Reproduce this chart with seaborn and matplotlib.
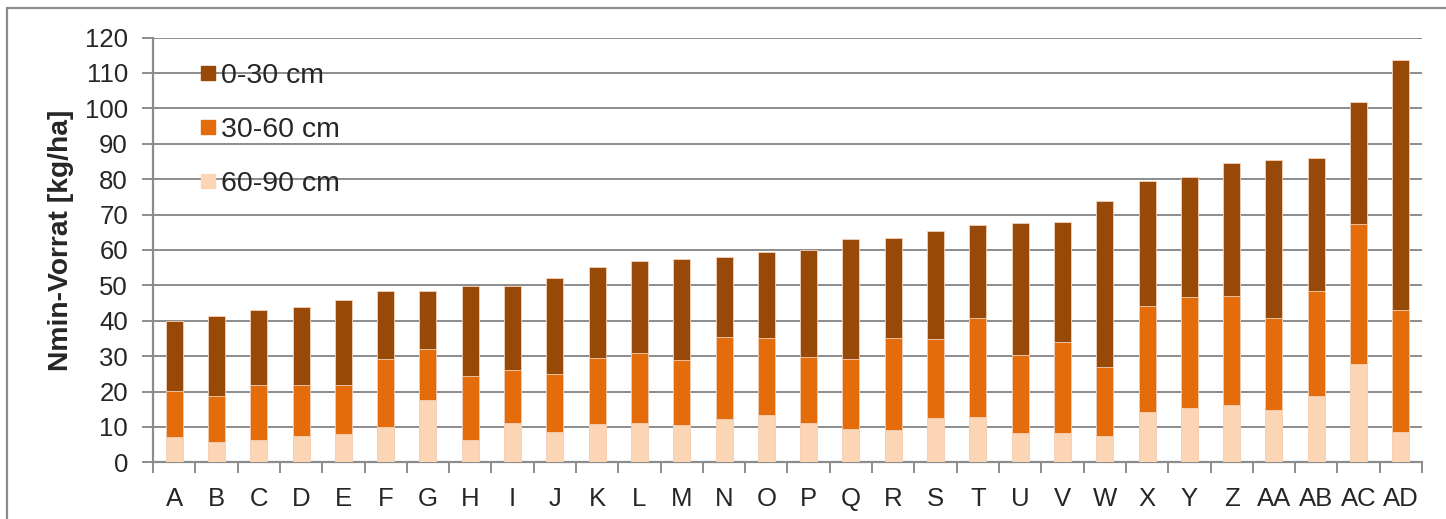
import matplotlib
matplotlib.use("Agg")
import matplotlib.pyplot as plt
from matplotlib.lines import Line2D
import numpy as np
import pandas as pd
import seaborn as sns

# Sites and nitrogen stock per soil layer (kg/ha)
sites = ["A", "B", "C", "D", "E", "F", "G", "H", "I", "J", "K", "L", "M", "N", "O",
         "P", "Q", "R", "S", "T", "U", "V", "W", "X", "Y", "Z", "AA", "AB", "AC", "AD"]
layer_0_30 = [19.8, 22.7, 21.2, 22.1, 24.0, 19.0, 16.3, 25.3, 23.6, 27.0,
              25.6, 26.0, 28.5, 22.5, 24.3, 30.2, 33.8, 28.5, 30.4, 26.2,
              37.1, 33.9, 46.8, 35.4, 33.9, 37.6, 44.6, 37.6, 34.7, 70.5]
layer_30_60 = [13.1, 12.9, 15.6, 14.5, 13.9, 19.4, 14.4, 18.0, 15.0, 16.4,
               18.7, 20.0, 18.3, 23.3, 21.7, 18.7, 20.0, 25.9, 22.4, 27.9,
               22.2, 25.7, 19.6, 30.1, 31.5, 30.9, 26.0, 29.7, 39.4, 34.4]
layer_60_90 = [7.1, 5.8, 6.3, 7.4, 8.0, 9.9, 17.6, 6.4, 11.1, 8.6,
               10.9, 11.0, 10.6, 12.1, 13.4, 11.0, 9.3, 9.1, 12.5, 12.8,
               8.2, 8.4, 7.4, 14.1, 15.3, 16.1, 14.8, 18.7, 27.8, 8.7]
legend_labels = ["0-30 cm", "30-60 cm", "60-90 cm"]
y_ticks = list(range(0, 121, 10))

colors = ["#984807", "#E46C0A", "#FCD5B5"]

df = pd.DataFrame({"site": sites, "l1": layer_0_30, "l2": layer_30_60, "l3": layer_60_90})
df["deep"] = df["l3"]
df["mid"] = df["l3"] + df["l2"]
df["total"] = df["l3"] + df["l2"] + df["l1"]

sns.set_theme(style="white")
plt.rcParams["font.family"] = ["Liberation Sans", "DejaVu Sans"]

fig = plt.figure(figsize=(14.46, 5.19), dpi=100)
ax = fig.add_axes([153 / 1446, 1 - 462.3 / 519, (1422 - 153) / 1446, (462.3 - 37.5) / 519])

# stacked bars: draw cumulative heights, tallest first
for col, c in zip(["total", "mid", "deep"], colors):
    sns.barplot(data=df, x="site", y=col, color=c, order=sites, width=0.4,
                errorbar=None, saturation=1, edgecolor="#f3d2bb", linewidth=0.6,
                ax=ax, zorder=3)

grid_c = "#8c8c8c"
ax.set_ylim(0, 120)
ax.set_xlim(-0.5, len(sites) - 0.5)
ax.set_yticks(y_ticks)
ax.yaxis.grid(True, color=grid_c, linewidth=1.4)
ax.xaxis.grid(False)
ax.set_axisbelow(True)

for side in ["top", "right"]:
    ax.spines[side].set_visible(False)
for side in ["left", "bottom"]:
    ax.spines[side].set_color(grid_c)
    ax.spines[side].set_linewidth(1.6)

ax.tick_params(axis="y", which="major", direction="out", length=8, width=1.4,
               color=grid_c, labelsize=18.5, pad=10, left=True)
ax.set_xticks(np.arange(len(sites)))
ax.set_xticklabels(sites)
ax.tick_params(axis="x", which="major", length=0, labelsize=18.5, pad=18)
ax.set_xticks(np.arange(-0.5, len(sites)), minor=True)
ax.tick_params(axis="x", which="minor", direction="out", length=8, width=1.4,
               color=grid_c, bottom=True)

ax.set_xlabel("")
ax.set_ylabel("Nmin-Vorrat [kg/ha]", fontsize=20.3, fontweight="bold", labelpad=8, y=0.522)

handles = [Line2D([], [], marker="s", linestyle="none", markersize=10,
                  markerfacecolor=c, markeredgecolor=c) for c in colors]
ax.legend(handles, legend_labels, loc="upper left", bbox_to_anchor=(0.024, 0.974),
          frameon=False, fontsize=20.5, handletextpad=0.12, labelspacing=0.98,
          handlelength=0.7, borderpad=0)

# chart area border
fig.add_artist(Line2D([7 / 1446, 7 / 1446], [0, 1 - 8 / 519], transform=fig.transFigure,
                      color="#8c8c8c", linewidth=1.6))
fig.add_artist(Line2D([7 / 1446, 1], [1 - 8 / 519, 1 - 8 / 519], transform=fig.transFigure,
                      color="#8c8c8c", linewidth=1.6))

fig.savefig("out.png", dpi=100)
